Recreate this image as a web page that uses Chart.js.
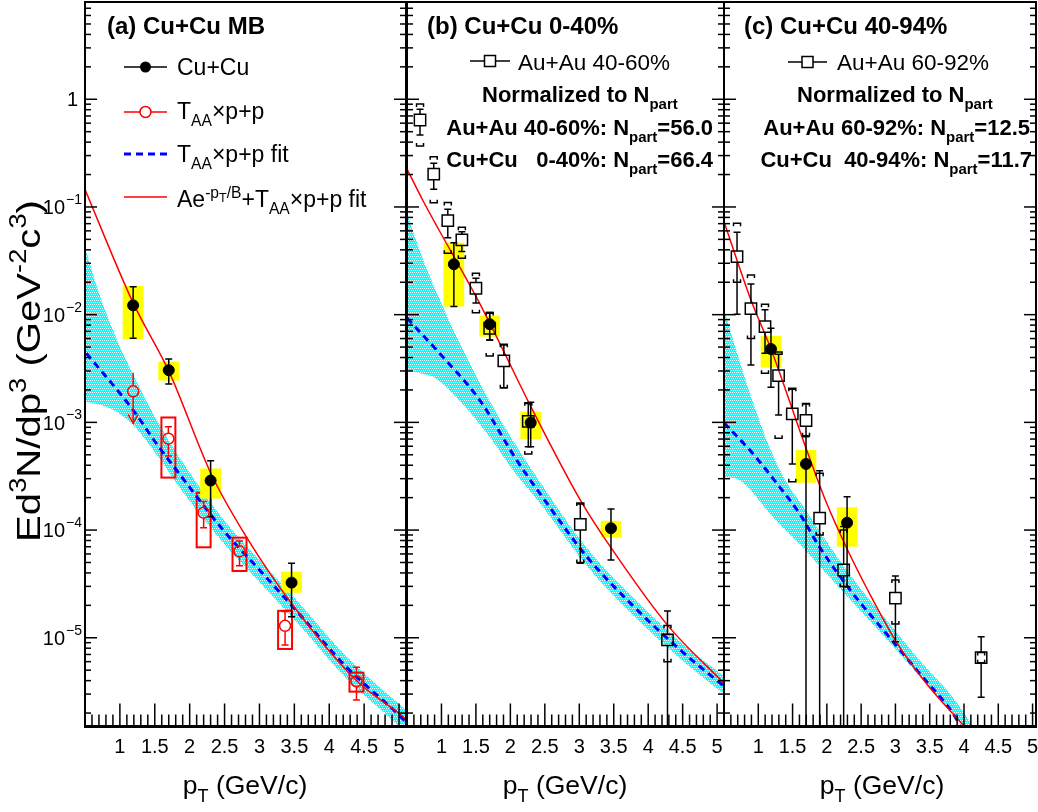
<!DOCTYPE html>
<html>
<head>
<meta charset="utf-8">
<script src="https://cdn.jsdelivr.net/npm/chart.js@4.4.1/dist/chart.umd.min.js"></script>
<style>
  html, body { margin: 0; padding: 0; background: #fff; }
  #wrap { position: relative; width: 1038px; height: 812px; overflow: hidden; background: #fff; }
  #wrap canvas { position: absolute; left: 0; top: 0; }
  #wrap svg { position: absolute; left: 0; top: 0; }
  .t { position: absolute; white-space: nowrap; font-family: "Liberation Sans", Arial, Helvetica, sans-serif; color: #000; line-height: 1; font-size: 22px; }
  .b { font-weight: bold; }
  .h { font-size: 24px; }
  .lg { font-size: 23px; }
  .lg2 { font-size: 22.5px; }
  .t sub { font-size: 0.68em; vertical-align: -0.45em; line-height: 0; }
  .t sup { font-size: 0.68em; vertical-align: 0.6em; line-height: 0; }
  .t sup sub { font-size: 0.8em; vertical-align: -0.35em; }
  .xt { font-size: 26.5px; transform: translateX(-50%); }
  .yt { font-size: 34px; transform: translate(-50%, -50%) rotate(-90deg) scaleX(1.18); }
</style>
</head>
<body>
<div id="wrap">
  <canvas id="cA" width="1038" height="812"></canvas>
  <canvas id="cB" width="1038" height="812"></canvas>
  <canvas id="cC" width="1038" height="812"></canvas>

  <svg width="1038" height="812">
    <line x1="124" y1="67" x2="167" y2="67" stroke="#000" stroke-width="1.5"/>
    <circle cx="145.5" cy="67" r="5.5" fill="#000"/>
    <line x1="124" y1="112" x2="167" y2="112" stroke="#f00" stroke-width="1.5"/>
    <circle cx="145.5" cy="112" r="5.5" fill="#fff" stroke="#f00" stroke-width="1.5"/>
    <line x1="124" y1="154" x2="167" y2="154" stroke="#00f" stroke-width="3" stroke-dasharray="7,5"/>
    <line x1="124" y1="197" x2="167" y2="197" stroke="#f00" stroke-width="1.5"/>
    <line x1="470" y1="61" x2="510" y2="61" stroke="#000" stroke-width="1.5"/>
    <rect x="484.5" y="55.5" width="11" height="11" fill="#fff" stroke="#000" stroke-width="1.5"/>
    <line x1="788" y1="62" x2="827" y2="62" stroke="#000" stroke-width="1.5"/>
    <rect x="802" y="56.5" width="11" height="11" fill="#fff" stroke="#000" stroke-width="1.5"/>
  </svg>

  <div class="t b h" style="left:107px;top:14px">(a) Cu+Cu MB</div>
  <div class="t b h" style="left:427px;top:14px">(b) Cu+Cu 0-40%</div>
  <div class="t b h" style="left:744px;top:14px">(c) Cu+Cu 40-94%</div>

  <div class="t lg" style="left:177px;top:56px">Cu+Cu</div>
  <div class="t lg" style="left:177px;top:100px">T<sub>AA</sub>&times;p+p</div>
  <div class="t lg" style="left:177px;top:143px">T<sub>AA</sub>&times;p+p fit</div>
  <div class="t lg" style="left:177px;top:188px">Ae<sup>-p<sub>T</sub>/B</sup>+T<sub>AA</sub>&times;p+p fit</div>

  <div class="t lg2" style="left:518px;top:52px">Au+Au 40-60%</div>
  <div class="t b" style="left:482px;top:84px">Normalized to N<sub>part</sub></div>
  <div class="t b" style="right:325px;top:117px">Au+Au 40-60%: N<sub>part</sub>=56.0</div>
  <div class="t b" style="right:325px;top:149px">Cu+Cu&nbsp;&nbsp;&nbsp;0-40%: N<sub>part</sub>=66.4</div>

  <div class="t lg2" style="left:837px;top:52px">Au+Au 60-92%</div>
  <div class="t b" style="left:797px;top:84px">Normalized to N<sub>part</sub></div>
  <div class="t b" style="right:8px;top:117px">Au+Au 60-92%: N<sub>part</sub>=12.5</div>
  <div class="t b" style="right:6px;top:149px">Cu+Cu&nbsp;&nbsp;40-94%: N<sub>part</sub>=11.7</div>

  <div class="t xt" style="left:245px;top:772px">p<sub>T</sub> (GeV/c)</div>
  <div class="t xt" style="left:565px;top:772px">p<sub>T</sub> (GeV/c)</div>
  <div class="t xt" style="left:882px;top:772px">p<sub>T</sub> (GeV/c)</div>
  <div class="t yt" style="left:28px;top:371px">Ed<sup>3</sup>N/dp<sup>3</sup> (GeV<sup>-2</sup>c<sup>3</sup>)</div>
</div>

<script>
// axis labels
const xTickLabels = [1, 1.5, 2, 2.5, 3, 3.5, 4, 4.5, 5]
const yDecades = [1, 1e-1, 1e-2, 1e-3, 1e-4, 1e-5]
const yDecadeBase = ['1', '10', '10', '10', '10', '10']
const yDecadeExp = ['', '\u22121', '\u22122', '\u22123', '\u22124', '\u22125']

// ---------- (a) Cu+Cu MB
const ptA = [1.19, 1.70, 2.30, 3.46]
const cuA = [0.0122, 0.00305, 2.88e-4, 3.25e-5]
const cuA_statHi = [0.0182, 0.00388, 4.4e-4, 4.92e-5]
const cuA_statLo = [0.00604, 0.00227, 1.33e-4, 1.57e-5]
const cuA_sysHi = [0.0185, 0.00366, 3.73e-4, 4.11e-5]
const cuA_sysLo = [0.0059, 0.00244, 1.96e-4, 2.62e-5]

const ptA_pp = [1.19, 1.695, 2.2, 2.714, 3.367, 4.39]
const ppA = [1.94e-3, 7.06e-4, 1.45e-4, 6.35e-5, 1.29e-5, 3.95e-6]
const ppA_statHi = [null, 9.1e-4, 1.84e-4, 7.93e-5, 1.75e-5, 5.32e-6]
const ppA_statLo = [null, 4.88e-4, 1.05e-4, 4.67e-5, 8.57e-6, 2.65e-6]
const ppA_sysHi = [null, 1.11e-3, 2.22e-4, 8.5e-5, 1.78e-5, 4.74e-6]
const ppA_sysLo = [null, 3.07e-4, 6.92e-5, 4.17e-5, 7.87e-6, 3.16e-6]
// upper limit on the first p+p point: arrow from top down to tip
const ppA_limitPt = [1.19]
const ppA_limitTop = [2.89e-3]
const ppA_limitTip = [9.8e-4]

const ptA_band = [0.5, 0.71, 0.90, 1.19, 1.53, 1.86, 2.47, 3.0, 3.53, 4.24, 5.0, 5.1]
const bandA_hi = [0.042, 0.0152, 7.21e-3, 2.75e-3, 1.05e-3, 4.67e-4, 1.29e-4, 5.27e-5, 2.24e-5, 6.76e-6, 2.43e-6, 2.15e-6]
const bandA_lo = [1.56e-3, 1.46e-3, 1.31e-3, 9.46e-4, 4.99e-4, 2.46e-4, 7.76e-5, 3.29e-5, 1.4e-5, 4.23e-6, 1.51e-6, 1.3e-6]
const ptA_fit = [0.52, 1.19, 1.52, 1.90, 2.48, 3.0, 3.52, 4.24, 5.0, 5.1]
const fitA = [4.38e-3, 1.3e-3, 6.4e-4, 3.03e-4, 1e-4, 4.27e-5, 1.81e-5, 5.4e-6, 1.92e-6, 1.65e-6]
const ptA_sum = [0.5, 1.19, 1.704, 2.31, 2.81, 3.457, 4.381, 5.08, 5.1]
const sumA = [0.145, 0.01285, 2.96e-3, 3.3e-4, 8.69e-5, 2.09e-5, 4.06e-6, 1.8e-6, 1.75e-6]

// ---------- (b) Cu+Cu 0-40%
const ptB = [1.18, 1.70, 2.295, 3.46]
const cuB = [0.0294, 8.15e-3, 9.93e-4, 1.04e-4]
const cuB_statHi = [0.0466, 0.0105, 1.54e-3, 1.57e-4]
const cuB_statLo = [0.0119, 5.82e-3, 5.94e-4, 5.27e-5]
const cuB_sysHi = [0.0466, 9.8e-3, 1.26e-3, 1.22e-4]
const cuB_sysLo = [0.0119, 6.25e-3, 7.01e-4, 8.57e-5]

const ptB_au = [0.689, 0.888, 1.092, 1.296, 1.50, 1.70, 1.905, 2.26, 3.015, 4.28]
const auB = [0.642, 0.202, 0.0746, 0.0494, 0.0176, 7.48e-3, 3.72e-3, 1.02e-3, 1.13e-4, 9.55e-6]
const auB_statHi = [0.807, 0.255, 0.0952, 0.059, 0.0218, 0.0103, 5.23e-3, 1.5e-3, 1.75e-4, 1.77e-5]
const auB_statLo = [0.466, 0.146, 0.0519, 0.0385, 0.0128, 5.82e-3, 2.1e-3, 5.94e-4, 4.92e-5, 1e-7]
const auB_sysHi = [0.904, 0.293, 0.11, 0.0648, 0.0242, 0.0105, 5.3e-3, 1.52e-3, 1.78e-4, 1.3e-5]
const auB_sysLo = [0.368, 0.1096, 0.0372, 0.0334, 0.0104, 4.14e-3, 2.1e-3, 5.09e-4, 5.0e-5, 6.0e-6]

const ptB_band = [0.5, 0.7, 0.9, 1.3, 1.7, 2.05, 2.43, 3.11, 3.79, 4.52, 5.1]
const bandB_hi = [0.0875, 0.037, 0.0178, 4.9e-3, 1.58e-3, 6.6e-4, 2.8e-4, 6.82e-5, 2.34e-5, 8.57e-6, 4.42e-6]
const bandB_lo = [3.07e-3, 2.85e-3, 2.6e-3, 1.5e-3, 7.3e-4, 3.5e-4, 1.77e-4, 4.65e-5, 1.6e-5, 5.96e-6, 3.0e-6]
const ptB_fit = [0.5, 0.971, 1.555, 2.09, 2.48, 3.11, 3.79, 4.52, 5.1]
const fitB = [9.3e-3, 4.38e-3, 1.61e-3, 4.48e-4, 1.97e-4, 5.66e-5, 1.95e-5, 7.18e-6, 3.55e-6]
const ptB_sum = [0.5, 0.727, 1.603, 2.31, 3.015, 3.45, 4.28, 5.1]
const sumB = [0.225, 0.116, 0.0111, 1.35e-3, 1.9e-4, 7.01e-5, 1.31e-5, 3.78e-6]

// ---------- (c) Cu+Cu 40-94%
const ptC = [1.185, 1.696, 2.295]
const cuC = [4.8e-3, 4.11e-4, 1.17e-4]
const cuC_statHi = [7.48e-3, 7.48e-4, 2.04e-4]
const cuC_statLo = [2.12e-3, 1e-7, 2.98e-5]
const cuC_sysHi = [6.34e-3, 5.54e-4, 1.63e-4]
const cuC_sysLo = [3.22e-3, 2.75e-4, 7.01e-5]

const ptC_au = [0.69, 0.893, 1.098, 1.296, 1.496, 1.696, 1.895, 2.245, 3.0, 4.25]
const auC = [0.0346, 0.0114, 7.74e-3, 2.72e-3, 1.2e-3, 1.04e-3, 1.29e-4, 4.26e-5, 2.33e-5, 6.53e-6]
const auC_statHi = [0.0582, 0.0193, 0.0111, 4.28e-3, 2.03e-3, 1.48e-3, 3.56e-4, 1.08e-4, 3.75e-5, 1.02e-5]
const auC_statLo = [0.0101, 3.41e-3, 4.38e-3, 1.17e-3, 4.11e-4, 7.37e-4, 1e-7, 1e-7, 9.2e-6, 2.8e-6]
const auC_sysHi = [0.0706, 0.0234, 0.0125, 4.5e-3, 2.07e-3, 1.5e-3, 3.37e-4, 1.0e-4, 3.44e-5, 7.28e-6]
const auC_sysLo = [0.02, 6e-3, 2.86e-3, 7.11e-4, 2.81e-4, 7.5e-4, 9e-5, 3e-5, 1.34e-5, 5.87e-6]

const ptC_band = [0.5, 0.723, 0.912, 1.161, 1.409, 1.642, 1.891, 2.372, 2.869, 3.35, 3.832, 4.153]
const bandC_hi = [0.0111, 3.79e-3, 1.61e-3, 5.9e-4, 2.8e-4, 1.71e-4, 9.8e-5, 3.59e-5, 1.46e-5, 6.21e-6, 2.82e-6, 1.45e-6]
const bandC_lo = [3.11e-4, 2.92e-4, 2.26e-4, 1.44e-4, 9.8e-5, 6.97e-5, 4.65e-5, 2.15e-5, 9.73e-6, 4.41e-6, 2.04e-6, 1.12e-6]
const ptC_fit = [0.5, 0.917, 1.307, 1.6, 1.89, 2.377, 2.864, 3.35, 3.837, 3.95]
const fitC = [9.9e-4, 5.16e-4, 2.53e-4, 1.43e-4, 7.01e-5, 2.59e-5, 1.1e-5, 4.68e-6, 1.99e-6, 1.5e-6]
const ptC_sum = [0.5, 0.893, 1.185, 1.696, 1.978, 2.28, 2.62, 3.01, 3.448, 4.007]
const sumC = [0.073, 0.0137, 4.8e-3, 5.75e-4, 1.9e-4, 7.0e-5, 2.59e-5, 9.2e-6, 3.78e-6, 1.5e-6]

const FONT = '"Liberation Sans", Arial, Helvetica, sans-serif'

// ROOT style dotted cyan fill
function cyanPattern() {
  const c = document.createElement('canvas')
  c.width = 4
  c.height = 4
  const g = c.getContext('2d')
  g.fillStyle = '#00ffff'
  g.fillRect(0, 0, 4, 4)
  g.fillStyle = '#ffffff'
  g.fillRect(0, 0, 1, 1)
  g.fillRect(2, 0, 1, 1)
  g.fillRect(1, 2, 1, 1)
  g.fillRect(3, 2, 1, 1)
  return g.createPattern(c, 'repeat')
}
const hatch = cyanPattern()

function pts(xs, ys) {
  return xs.map((x, i) => ({ x: x, y: ys[i] }))
}

function bandSets(xs, hi, lo) {
  return [
    { data: pts(xs, hi), borderWidth: 0, pointRadius: 0, fill: '+1', backgroundColor: hatch, cubicInterpolationMode: 'monotone', order: 10 },
    { data: pts(xs, lo), borderWidth: 0, pointRadius: 0, fill: false, cubicInterpolationMode: 'monotone', order: 9, hook: 'boxes' }
  ]
}

function fitSet(xs, ys) {
  return { data: pts(xs, ys), borderColor: '#0000ff', borderWidth: 3, borderDash: [7, 5], pointRadius: 0, fill: false, cubicInterpolationMode: 'monotone', order: 8 }
}

function sumSet(xs, ys) {
  return { data: pts(xs, ys), borderColor: '#ff0000', borderWidth: 1.5, pointRadius: 0, fill: false, cubicInterpolationMode: 'monotone', order: 7, hook: 'bars' }
}

function cuSet(xs, ys, hi, lo, sHi, sLo) {
  return {
    data: pts(xs, ys), showLine: false, pointStyle: 'circle', pointRadius: 5.5, pointBackgroundColor: '#000', pointBorderColor: '#000', pointBorderWidth: 1, order: 1,
    statHi: hi, statLo: lo, sysHi: sHi, sysLo: sLo, sysStyle: 'fill', sysColor: '#ffff00', sysHalf: 0.15, barColor: '#000', gap: 5.5
  }
}

function auSet(xs, ys, hi, lo, sHi, sLo) {
  return {
    data: pts(xs, ys), showLine: false, pointStyle: 'rect', pointRadius: 8, pointBackgroundColor: 'rgba(0,0,0,0)', pointBorderColor: '#000', pointBorderWidth: 1.5, order: 2,
    statHi: hi, statLo: lo, sysHi: sHi, sysLo: sLo, sysStyle: 'bracket', barColor: '#000', gap: 5.7
  }
}

function ppSet() {
  return {
    data: pts(ptA_pp, ppA), showLine: false, pointStyle: 'circle', pointRadius: 5.5, pointBackgroundColor: 'rgba(0,0,0,0)', pointBorderColor: '#ff0000', pointBorderWidth: 1.5, order: 3,
    statHi: ppA_statHi, statLo: ppA_statLo, sysHi: ppA_sysHi, sysLo: ppA_sysLo, sysStyle: 'box', sysColor: '#ff0000', sysHalf: 0.1, barColor: '#ff0000', gap: 5.5,
    limitPt: ppA_limitPt, limitTop: ppA_limitTop, limitTip: ppA_limitTip
  }
}

function clipArea(ctx, a) {
  ctx.beginPath()
  ctx.rect(a.left, a.top, a.right - a.left, a.bottom - a.top)
  ctx.clip()
}

function seg(ctx, x0, y0, x1, y1) {
  ctx.beginPath()
  ctx.moveTo(x0, y0)
  ctx.lineTo(x1, y1)
  ctx.stroke()
}

function drawSysBoxes(chart) {
  const ctx = chart.ctx, xs = chart.scales.x, ys = chart.scales.y
  ctx.save()
  clipArea(ctx, chart.chartArea)
  chart.data.datasets.forEach(ds => {
    if (!ds.sysHi || ds.sysStyle === 'bracket') return
    ds.data.forEach((p, i) => {
      if (ds.sysHi[i] == null) return
      const x0 = xs.getPixelForValue(p.x - ds.sysHalf)
      const x1 = xs.getPixelForValue(p.x + ds.sysHalf)
      const y0 = ys.getPixelForValue(ds.sysHi[i])
      const y1 = ys.getPixelForValue(ds.sysLo[i])
      if (ds.sysStyle === 'fill') {
        ctx.fillStyle = ds.sysColor
        ctx.fillRect(x0, y0, x1 - x0, y1 - y0)
      } else {
        ctx.strokeStyle = ds.sysColor
        ctx.lineWidth = 2
        ctx.strokeRect(x0, y0, x1 - x0, y1 - y0)
      }
    })
  })
  ctx.restore()
}

function drawErrorBars(chart) {
  const ctx = chart.ctx, xs = chart.scales.x, ys = chart.scales.y
  ctx.save()
  clipArea(ctx, chart.chartArea)
  chart.data.datasets.forEach(ds => {
    if (!ds.statHi) return
    ctx.strokeStyle = ds.barColor
    ctx.lineWidth = 1.5
    ds.data.forEach((p, i) => {
      const x = xs.getPixelForValue(p.x)
      const y = ys.getPixelForValue(p.y)
      const g = ds.gap
      if (ds.statHi[i] != null) {
        const yh = ys.getPixelForValue(ds.statHi[i])
        if (yh < y - g) {
          seg(ctx, x, y - g, x, yh)
          seg(ctx, x - 3.5, yh, x + 3.5, yh)
        }
      }
      if (ds.statLo[i] != null) {
        const yl = ys.getPixelForValue(ds.statLo[i])
        if (yl > y + g) {
          seg(ctx, x, y + g, x, yl)
          seg(ctx, x - 3.5, yl, x + 3.5, yl)
        }
      }
      if (ds.sysStyle === 'bracket' && ds.sysHi[i] != null) {
        const yt = ys.getPixelForValue(ds.sysHi[i])
        const yb = ys.getPixelForValue(ds.sysLo[i])
        ctx.beginPath()
        ctx.moveTo(x - 3.5, yt + 3); ctx.lineTo(x - 3.5, yt); ctx.lineTo(x + 3.5, yt); ctx.lineTo(x + 3.5, yt + 3)
        ctx.moveTo(x - 3.5, yb - 3); ctx.lineTo(x - 3.5, yb); ctx.lineTo(x + 3.5, yb); ctx.lineTo(x + 3.5, yb - 3)
        ctx.stroke()
      }
    })
    if (ds.limitPt) {
      ds.limitPt.forEach((v, i) => {
        const x = xs.getPixelForValue(v)
        const yc = ys.getPixelForValue(ds.data[i].y)
        const yt = ys.getPixelForValue(ds.limitTop[i])
        const yb = ys.getPixelForValue(ds.limitTip[i])
        seg(ctx, x, yt, x, yc - ds.gap)
        seg(ctx, x, yc + ds.gap, x, yb)
        ctx.beginPath()
        ctx.moveTo(x - 5, yb - 9); ctx.lineTo(x, yb); ctx.lineTo(x + 5, yb - 9)
        ctx.stroke()
      })
    }
  })
  ctx.restore()
}

function drawFrame(chart) {
  const ctx = chart.ctx, a = chart.chartArea, xs = chart.scales.x, ys = chart.scales.y
  ctx.save()
  ctx.strokeStyle = '#000'
  ctx.lineWidth = 1.5
  // x ticks every 0.1, major every 0.5
  for (let k = 5; k <= 51; k++) {
    const v = k / 10
    if (v > xs.max + 1e-9) break
    const X = xs.getPixelForValue(v)
    seg(ctx, X, a.bottom, X, a.bottom - (k % 5 === 0 ? 23 : 12))
  }
  // y ticks on both sides
  for (let e = -6; e <= 0; e++) {
    for (let m = 1; m <= 9; m++) {
      const v = m * Math.pow(10, e)
      if (v < ys.min || v > ys.max) continue
      const Y = ys.getPixelForValue(v)
      const len = m === 1 ? 12 : 6
      seg(ctx, a.left, Y, a.left + len, Y)
      seg(ctx, a.right, Y, a.right - len, Y)
    }
  }
  ctx.lineWidth = 2
  ctx.strokeRect(a.left, a.top, a.right - a.left, a.bottom - a.top)
  ctx.lineWidth = 3
  seg(ctx, a.left - 1, a.bottom, a.right + 1, a.bottom)

  // x tick labels
  ctx.fillStyle = '#000'
  ctx.font = '20px ' + FONT
  ctx.textAlign = 'center'
  ctx.textBaseline = 'alphabetic'
  xTickLabels.forEach(v => {
    ctx.fillText(String(v), xs.getPixelForValue(v), a.bottom + 26)
  })
  ctx.restore()
}

function drawYLabels(chart) {
  const ctx = chart.ctx, ys = chart.scales.y
  const xr = chart.chartArea.left - 3
  ctx.save()
  ctx.fillStyle = '#000'
  ctx.textAlign = 'right'
  ctx.textBaseline = 'alphabetic'
  yDecades.forEach((v, i) => {
    const Y = ys.getPixelForValue(v)
    const exp = yDecadeExp[i]
    let w = 0
    if (exp) {
      ctx.font = '14px ' + FONT
      w = ctx.measureText(exp).width + 1
      ctx.fillText(exp, xr, Y - 3)
    }
    ctx.font = '20px ' + FONT
    ctx.fillText(yDecadeBase[i], exp ? xr - w : xr - 4, Y + 7.2)
  })
  ctx.restore()
}

const rootStyle = {
  id: 'rootStyle',
  afterDatasetDraw(chart, args) {
    const ds = chart.data.datasets[args.index]
    if (ds.hook === 'boxes') drawSysBoxes(chart)
    if (ds.hook === 'bars') drawErrorBars(chart)
  },
  afterDraw(chart) {
    drawFrame(chart)
    if (chart.canvas.id === 'cA') drawYLabels(chart)
  }
}

function makePanel(id, left, right, xmax, datasets) {
  return new Chart(document.getElementById(id), {
    type: 'line',
    data: { datasets: datasets },
    plugins: [rootStyle],
    options: {
      responsive: false,
      animation: false,
      devicePixelRatio: 1,
      layout: { autoPadding: false, padding: { left: left, right: 1038 - right, top: 2, bottom: 812 - 726.5 } },
      plugins: { legend: { display: false }, tooltip: { enabled: false } },
      elements: { line: { tension: 0 } },
      scales: {
        x: {
          type: 'linear', min: 0.5, max: xmax,
          grid: { display: false, drawTicks: false },
          border: { display: false },
          afterFit: s => { s.height = 0 },
          ticks: { display: false }
        },
        y: {
          type: 'logarithmic', min: 1.5e-6, max: 8,
          grid: { display: false, drawTicks: false },
          border: { display: false },
          afterFit: s => { s.width = 0 },
          ticks: { display: false }
        }
      }
    }
  })
}

makePanel('cA', 85, 406, 5.1, [
  ...bandSets(ptA_band, bandA_hi, bandA_lo),
  fitSet(ptA_fit, fitA),
  sumSet(ptA_sum, sumA),
  ppSet(),
  cuSet(ptA, cuA, cuA_statHi, cuA_statLo, cuA_sysHi, cuA_sysLo)
])

makePanel('cB', 407, 724, 5.1, [
  ...bandSets(ptB_band, bandB_hi, bandB_lo),
  fitSet(ptB_fit, fitB),
  sumSet(ptB_sum, sumB),
  auSet(ptB_au, auB, auB_statHi, auB_statLo, auB_sysHi, auB_sysLo),
  cuSet(ptB, cuB, cuB_statHi, cuB_statLo, cuB_sysHi, cuB_sysLo)
])

makePanel('cC', 724, 1036, 5.05, [
  ...bandSets(ptC_band, bandC_hi, bandC_lo),
  fitSet(ptC_fit, fitC),
  sumSet(ptC_sum, sumC),
  auSet(ptC_au, auC, auC_statHi, auC_statLo, auC_sysHi, auC_sysLo),
  cuSet(ptC, cuC, cuC_statHi, cuC_statLo, cuC_sysHi, cuC_sysLo)
])
</script>
</body>
</html>
